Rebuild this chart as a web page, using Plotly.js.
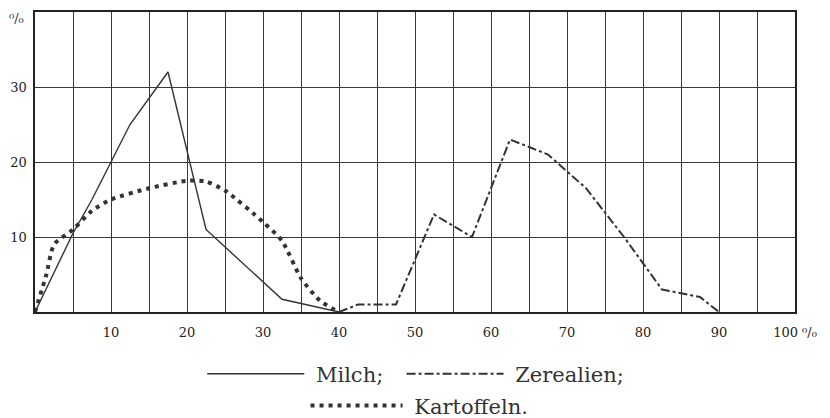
<!DOCTYPE html>
<html>
<head>
<meta charset="utf-8">
<script src="https://cdn.plot.ly/plotly-3.0.1.min.js"></script>
<style>html,body{margin:0;padding:0;background:#fff;}#chart{width:830px;height:418px;}</style>
</head>
<body>
<div id="chart"></div>
<script>
// Milch (solid)
const milchX = [0, 5, 7.5, 10, 12.5, 17.5, 22.5, 32.5, 40];
const milchY = [0, 10.5, 15, 20, 25, 32, 11, 1.7, 0];
// Zerealien (dash-dot)
const zerX = [40, 42.5, 47.5, 52.5, 57.5, 62.5, 67.5, 72.5, 77.5, 82.5, 87.5, 90];
const zerY = [0, 1, 1, 13, 10, 23, 21, 16.5, 10, 3, 2, 0];
// Kartoffeln (dotted)
const kartX = [0, 1.5, 2.5, 5, 7.5, 10, 15, 20, 22.5, 25, 30, 32.5, 35, 37.5, 40];
const kartY = [0, 5, 9, 11, 13.5, 15, 16.5, 17.5, 17.4, 16.2, 12, 9.5, 4.5, 1.5, 0];

const xTickVals = [0,5,10,15,20,25,30,35,40,45,50,55,60,65,70,75,80,85,90,95,100];
const xTickText = ['','','10','','20','','30','','40','','50','','60','','70','','80','','90','','100 ⁰/₀'];
const yTickVals = [0,10,20,30,40];
const yTickText = ['','10','20','30',''];

const ink = '#333';
const serif = 'DejaVu Serif, serif';
const NB = '\u00a0';

const traces = [
  {x: milchX, y: milchY, name: NB + 'Milch;' + NB + NB, mode: 'lines', legend: 'legend',
   line: {color: ink, width: 1.4}},
  {x: zerX, y: zerY, name: NB + 'Zerealien;', mode: 'lines', legend: 'legend',
   line: {color: ink, width: 2, dash: 'dashdot'}},
  {x: kartX, y: kartY, name: NB + 'Kartoffeln.', mode: 'lines', legend: 'legend2',
   line: {color: ink, width: 4, dash: '4px,5px', shape: 'spline', smoothing: 0.6}}
];

const layout = {
  width: 830, height: 418,
  margin: {l: 35, r: 35, t: 12, b: 106, autoexpand: false},
  paper_bgcolor: '#fff', plot_bgcolor: '#fff',
  font: {family: serif, color: '#222', size: 13},
  showlegend: true,
  legend: {orientation: 'h', x: 0.501, xanchor: 'center', y: -0.207, yanchor: 'middle',
           itemwidth: 97, font: {family: serif, size: 21, color: '#333'},
           bgcolor: 'rgba(0,0,0,0)', traceorder: 'normal'},
  legend2: {orientation: 'h', x: 0.506, xanchor: 'center', y: -0.313, yanchor: 'middle',
           itemwidth: 92, font: {family: serif, size: 21, color: '#333'},
           bgcolor: 'rgba(0,0,0,0)'},
  xaxis: {range: [0, 100], tickvals: xTickVals, ticktext: xTickText,
          showgrid: true, gridcolor: '#3a3a3a', gridwidth: 1, zeroline: false,
          showline: true, mirror: true, linecolor: '#222', linewidth: 1.6,
          ticks: 'outside', ticklen: 8, tickcolor: 'rgba(0,0,0,0)',
          tickfont: {family: serif, size: 13, color: '#222'}, fixedrange: true},
  yaxis: {range: [0, 40], tickvals: yTickVals, ticktext: yTickText,
          showgrid: true, gridcolor: '#3a3a3a', gridwidth: 1, zeroline: false,
          showline: true, mirror: true, linecolor: '#222', linewidth: 1.6,
          ticks: 'outside', ticklen: 4, tickcolor: 'rgba(0,0,0,0)',
          tickfont: {family: serif, size: 13, color: '#222'}, fixedrange: true},
  annotations: [
    {text: '⁰/₀', xref: 'paper', yref: 'paper', x: -0.024, y: 0.98, xanchor: 'center', yanchor: 'middle',
     showarrow: false, font: {family: serif, size: 13, color: '#333'}}
  ]
};

Plotly.newPlot('chart', traces, layout, {staticPlot: true, displayModeBar: false});
</script>
</body>
</html>
